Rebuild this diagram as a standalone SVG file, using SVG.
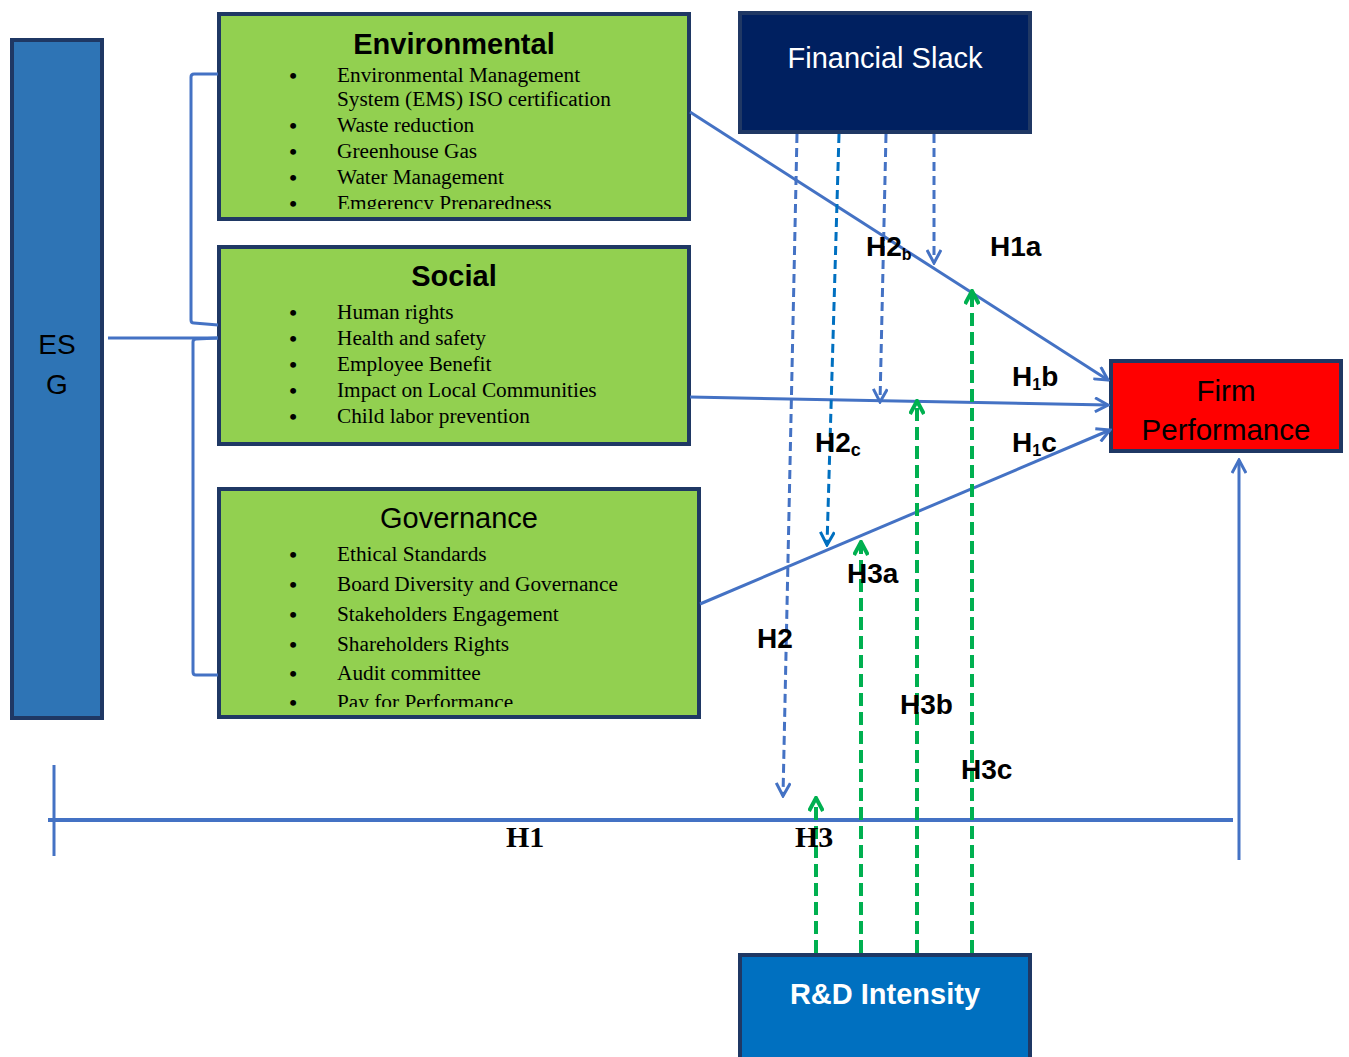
<svg xmlns="http://www.w3.org/2000/svg" width="1349" height="1057" viewBox="0 0 1349 1057">
<style>
.box{stroke:#1F3864;stroke-width:4}
.green{fill:#92D050}
.title{font-family:"Liberation Sans",Arial,sans-serif;font-size:29px;fill:#000;text-anchor:middle}
.item{font-family:"Liberation Serif","Times New Roman",serif;font-size:21.3px;fill:#000}
.bul{font-family:"Liberation Serif","Times New Roman",serif;font-size:22px;font-weight:bold;fill:#000;text-anchor:middle}
.lab{font-family:"Liberation Sans",Arial,sans-serif;font-size:28px;font-weight:bold;fill:#000}
.tlab{font-family:"Liberation Serif","Times New Roman",serif;font-size:30px;font-weight:bold;fill:#000}
.solid{stroke:#4472C4;stroke-width:3;fill:none}
.dblue{stroke:#4472C4;stroke-width:3;fill:none;stroke-dasharray:9 5}
.dblue2{stroke:#0070C0;stroke-width:3;fill:none;stroke-dasharray:9 5}
.dgreen{stroke:#00B050;stroke-width:4;fill:none;stroke-dasharray:13 6}
</style>
<defs>
<marker id="ab" viewBox="0 0 16 16" refX="14" refY="8" markerWidth="16" markerHeight="16" markerUnits="userSpaceOnUse" orient="auto">
<path d="M1,1 L14,8 L1,15" fill="none" stroke="#4472C4" stroke-width="3"/>
</marker>
<marker id="ab2" viewBox="0 0 16 16" refX="14" refY="8" markerWidth="16" markerHeight="16" markerUnits="userSpaceOnUse" orient="auto">
<path d="M1,1 L14,8 L1,15" fill="none" stroke="#0070C0" stroke-width="3"/>
</marker>
<marker id="ag" viewBox="0 0 16 16" refX="14" refY="8" markerWidth="16" markerHeight="16" markerUnits="userSpaceOnUse" orient="auto">
<path d="M1,1 L14,8 L1,15" fill="none" stroke="#00B050" stroke-width="4"/>
</marker>
<clipPath id="clipEnv"><rect x="218" y="13" width="472" height="196"/></clipPath>
<clipPath id="clipGov"><rect x="218" y="487" width="482" height="220"/></clipPath>
</defs>

<g id="esg">
<rect class="box" x="12" y="40" width="90" height="678" fill="#2E74B5"/>
<text x="57" y="354" font-family="Liberation Sans,Arial,sans-serif" font-size="28" text-anchor="middle" fill="#000">ES</text>
<text x="57" y="394" font-family="Liberation Sans,Arial,sans-serif" font-size="28" text-anchor="middle" fill="#000">G</text>
</g>

<g id="environmental">
<rect class="box green" x="219" y="14" width="470" height="205"/>
<text class="title" x="454" y="54" font-weight="bold">Environmental</text>
<g clip-path="url(#clipEnv)">
<text class="bul" x="293" y="83">•</text><text class="item" x="337" y="82">Environmental Management</text>
<text class="item" x="337" y="106">System (EMS) ISO certification</text>
<text class="bul" x="293" y="133">•</text><text class="item" x="337" y="132">Waste reduction</text>
<text class="bul" x="293" y="159">•</text><text class="item" x="337" y="158">Greenhouse Gas</text>
<text class="bul" x="293" y="185">•</text><text class="item" x="337" y="184">Water Management</text>
<text class="bul" x="293" y="211">•</text><text class="item" x="337" y="210">Emgerency Preparedness</text>
</g>
</g>

<g id="social">
<rect class="box green" x="219" y="247" width="470" height="197"/>
<text class="title" x="454" y="286" font-weight="bold">Social</text>
<text class="bul" x="293" y="320">•</text><text class="item" x="337" y="319">Human rights</text>
<text class="bul" x="293" y="346">•</text><text class="item" x="337" y="345">Health and safety</text>
<text class="bul" x="293" y="372">•</text><text class="item" x="337" y="371">Employee Benefit</text>
<text class="bul" x="293" y="398">•</text><text class="item" x="337" y="397">Impact on Local Communities</text>
<text class="bul" x="293" y="424">•</text><text class="item" x="337" y="423">Child labor prevention</text>
</g>

<g id="governance">
<rect class="box green" x="219" y="489" width="480" height="228"/>
<text class="title" x="459" y="528">Governance</text>
<g clip-path="url(#clipGov)">
<text class="bul" x="293" y="562">•</text><text class="item" x="337" y="561">Ethical Standards</text>
<text class="bul" x="293" y="592">•</text><text class="item" x="337" y="591">Board Diversity and Governance</text>
<text class="bul" x="293" y="622">•</text><text class="item" x="337" y="621">Stakeholders Engagement</text>
<text class="bul" x="293" y="652">•</text><text class="item" x="337" y="651">Shareholders Rights</text>
<text class="bul" x="293" y="681">•</text><text class="item" x="337" y="680">Audit committee</text>
<text class="bul" x="293" y="710">•</text><text class="item" x="337" y="709">Pay for Performance</text>
</g>
</g>

<g id="financial-slack">
<rect x="740" y="13" width="290" height="119" fill="#002060" stroke="#203864" stroke-width="4"/>
<text x="885" y="68" font-family="Liberation Sans,Arial,sans-serif" font-size="29" text-anchor="middle" fill="#fff">Financial Slack</text>
</g>

<g id="firm-performance">
<rect class="box" x="1111" y="361" width="230" height="90" fill="#FF0000"/>
<text x="1226" y="401" font-family="Liberation Sans,Arial,sans-serif" font-size="29.5" text-anchor="middle" fill="#000">Firm</text>
<text x="1226" y="440" font-family="Liberation Sans,Arial,sans-serif" font-size="29.5" text-anchor="middle" fill="#000">Performance</text>
</g>

<g id="rd-intensity">
<rect class="box" x="740" y="955" width="290" height="106" fill="#0070C0"/>
<text x="885" y="1004" font-family="Liberation Sans,Arial,sans-serif" font-size="29" font-weight="bold" text-anchor="middle" fill="#fff">R&amp;D Intensity</text>
</g>

<g id="connectors">
<path class="solid" d="M218,74 L194,74 Q191,74 191,77 L191,320 Q191,323 194,323 L218,325"/>
<path class="solid" d="M218,338 L196,339 Q193,339 193,342 L193,672 Q193,675 196,675 L218,675"/>
<path class="solid" d="M108,338 L218,338"/>
<path class="solid" d="M690,112 L1108,380" marker-end="url(#ab)"/>
<path class="solid" d="M690,397 L1108,405" marker-end="url(#ab)"/>
<path class="solid" d="M700,604 L1110,430" marker-end="url(#ab)"/>
<path d="M48,820 L1233,820" stroke="#4472C4" stroke-width="4" fill="none"/>
<path class="solid" d="M54,765 L54,856" stroke-width="2.5"/>
<path class="solid" d="M1239,860 L1239,460" marker-end="url(#ab)"/>
<path class="dblue" d="M797,134 L783,796" marker-end="url(#ab)"/>
<path class="dblue2" d="M839,134 L827,545" marker-end="url(#ab2)"/>
<path class="dblue" d="M886,134 L880,402" marker-end="url(#ab)"/>
<path class="dblue" d="M934,134 L934,263" marker-end="url(#ab)"/>
<path class="dgreen" d="M816,953 L816,798" marker-end="url(#ag)"/>
<path class="dgreen" d="M861,953 L861,542" marker-end="url(#ag)"/>
<path class="dgreen" d="M917,953 L917,401" marker-end="url(#ag)"/>
<path class="dgreen" d="M972,953 L972,291" marker-end="url(#ag)"/>
</g>

<g id="labels">
<text class="lab" x="866" y="256">H2<tspan font-size="16" dy="4">b</tspan></text>
<text class="lab" x="990" y="256">H1a</text>
<text class="lab" x="1012" y="386">H<tspan font-size="16" dy="4">1</tspan><tspan dy="-4">b</tspan></text>
<text class="lab" x="1012" y="452">H<tspan font-size="16" dy="4">1</tspan><tspan dy="-4">c</tspan></text>
<text class="lab" x="815" y="452">H2<tspan font-size="18" dy="4">c</tspan></text>
<text class="lab" x="847" y="583">H3a</text>
<text class="lab" x="757" y="648">H2</text>
<text class="lab" x="900" y="714">H3b</text>
<text class="lab" x="961" y="779">H3c</text>
<text class="tlab" x="506" y="847">H1</text>
<text class="tlab" x="795" y="847">H3</text>
</g>
</svg>
